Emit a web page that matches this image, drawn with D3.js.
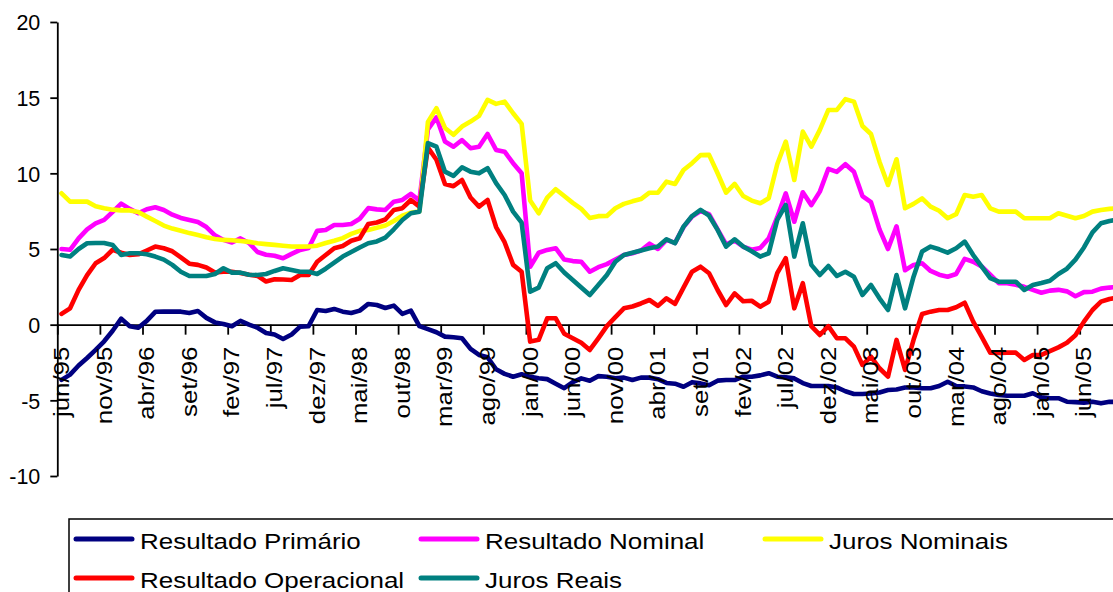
<!DOCTYPE html>
<html><head><meta charset="utf-8">
<script src="https://cdn.jsdelivr.net/npm/d3@7"></script>
<style>html,body{margin:0;padding:0;background:#fff;overflow:hidden}</style>
</head><body><svg id="c" width="1113" height="592"></svg>
<script>
// ---- data ----
const monthNames = ["jan","fev","mar","abr","mai","jun","jul","ago","set","out","nov","dez"];
const startYear = 1995, startMonthIdx = 5, nMonths = 125;
const categories = d3.range(nMonths).map(i => {
  const k = startMonthIdx + i;
  return monthNames[k % 12] + "/" + String((startYear + Math.floor(k / 12)) % 100).padStart(2, "0");
});
const xTickLabels = ["jun/95","nov/95","abr/96","set/96","fev/97","jul/97","dez/97","mai/98","out/98","mar/99","ago/99","jan/00","jun/00","nov/00","abr/01","set/01","fev/02","jul/02","dez/02","mai/03","out/03","mar/04","ago/04","jan/05","jun/05"];
const yTicks = [-10,-5,0,5,10,15,20];

const resultadoPrimario = [-3.65,-3.3,-2.7,-2.2,-1.67,-1.1,-0.4,0.4,-0.1,-0.2, 0.25,0.85,0.86,0.86,0.86,0.77,0.9,0.45,0.15,0.05, -0.1,0.25,0.0,-0.2,-0.55,-0.65,-0.95,-0.65,-0.13,-0.1, 0.97,0.9,1.04,0.86,0.77,0.93,1.37,1.3,1.1,1.26, 0.71,0.93,-0.1,-0.3,-0.5,-0.79,-0.83,-0.9,-1.6,-2.0, -2.15,-2.95,-3.25,-3.44,-3.28,-3.45,-3.54,-3.6,-3.9,-4.2, -3.8,-3.55,-3.7,-3.4,-3.44,-3.54,-3.5,-3.66,-3.5,-3.5, -3.6,-3.85,-3.9,-4.1,-3.8,-3.88,-4.0,-3.7,-3.66,-3.66, -3.44,-3.44,-3.35,-3.21,-3.44,-3.48,-3.55,-3.86,-4.05,-4.05, -4.05,-4.15,-4.4,-4.58,-4.58,-4.55,-4.48,-4.32,-4.28,-4.15, -4.15,-4.2,-4.2,-4.05,-3.77,-4.05,-4.08,-4.15,-4.4,-4.55, -4.65,-4.7,-4.7,-4.7,-4.53,-4.8,-4.86,-4.86,-5.09,-5.12, -5.15,-5.09,-5.2,-5.1,-5.1];
const resultadoNominal = [5.0,4.95,5.7,6.3,6.7,6.92,7.45,8.0,7.65,7.36, 7.63,7.76,7.58,7.27,7.05,6.92,6.78,6.45,5.9,5.6, 5.43,5.7,5.4,4.8,4.62,4.55,4.39,4.68,4.94,5.07, 6.2,6.26,6.59,6.59,6.65,7.0,7.7,7.62,7.58,8.13, 8.24,8.64,8.2,12.9,13.7,12.1,11.76,12.2,11.66,11.76, 12.6,11.55,11.43,10.67,10.0,3.83,4.75,4.94,5.05,4.3, 4.2,4.16,3.5,3.8,4.0,4.3,4.6,4.72,4.9,5.35, 5.0,5.6,5.4,6.45,7.15,7.5,7.3,6.3,5.3,5.55, 5.15,4.95,5.07,5.7,7.1,8.68,6.8,8.75,7.9,8.79, 10.3,10.1,10.6,10.1,8.5,8.1,6.3,5.0,6.5,3.6, 3.95,4.06,3.55,3.3,3.17,3.35,4.35,4.16,3.85,3.3, 2.74,2.74,2.63,2.5,2.3,2.11,2.25,2.3,2.2,1.88, 2.15,2.18,2.38,2.45,2.5];
const jurosNominais = [8.68,8.13,8.13,8.13,7.82,7.7,7.6,7.55,7.55,7.45, 7.14,6.85,6.55,6.35,6.2,6.05,5.92,5.78,5.66,5.6, 5.58,5.53,5.47,5.38,5.32,5.27,5.22,5.17,5.16,5.17, 5.22,5.4,5.55,5.72,6.0,6.2,6.26,6.4,6.55,6.85, 7.2,7.4,7.5,13.4,14.3,13.0,12.55,13.09,13.42,13.8, 14.85,14.59,14.74,13.97,13.27,8.2,7.36,8.4,8.95,8.5, 8.05,7.65,7.05,7.17,7.18,7.69,7.98,8.15,8.3,8.72, 8.72,9.45,9.3,10.22,10.67,11.2,11.22,10.0,8.72,9.3, 8.5,8.2,8.02,8.35,10.6,12.1,9.56,12.76,11.76,12.87, 14.19,14.19,14.9,14.74,13.13,12.6,10.77,9.23,10.93,7.69, 7.98,8.35,7.8,7.53,7.03,7.3,8.57,8.46,8.57,7.69, 7.47,7.47,7.47,7.03,7.03,7.03,7.03,7.36,7.2,7.03, 7.18,7.47,7.58,7.65,7.7];
const resultadoOperacional = [0.71,1.08,2.3,3.28,4.06,4.4,4.95,4.75,4.6,4.65, 4.9,5.16,5.05,4.85,4.45,4.03,3.95,3.78,3.45,3.5, 3.5,3.42,3.3,3.22,2.85,3.0,2.98,2.95,3.28,3.28, 4.16,4.6,5.05,5.2,5.55,5.71,6.65,6.75,6.95,7.58, 7.7,8.24,7.8,11.7,10.9,9.3,9.15,9.56,8.4,7.8, 8.24,6.45,5.45,3.95,3.5,-1.12,-1.0,0.42,0.42,-0.6, -0.9,-1.2,-1.67,-0.9,-0.1,0.5,1.08,1.2,1.4,1.63, 1.24,1.74,1.37,2.45,3.5,3.83,3.4,2.29,1.3,2.07, 1.55,1.58,1.19,1.52,3.4,4.39,1.08,2.74,-0.1,-0.68, -0.1,-0.9,-0.9,-1.45,-2.66,-2.11,-2.88,-3.44,-1.01,-2.99, -1.0,0.71,0.86,0.97,0.97,1.15,1.45,0.2,-0.8,-1.85, -1.87,-1.85,-1.85,-2.33,-2.0,-2.0,-1.75,-1.5,-1.2,-0.7, 0.2,0.97,1.52,1.7,1.8];
const jurosReais = [4.6,4.5,5.0,5.38,5.4,5.4,5.27,4.6,4.72,4.72, 4.65,4.5,4.3,3.95,3.5,3.22,3.22,3.22,3.35,3.73, 3.44,3.44,3.3,3.28,3.35,3.55,3.73,3.62,3.5,3.5, 3.35,3.7,4.1,4.5,4.8,5.1,5.38,5.5,5.75,6.3, 6.92,7.36,7.47,12.0,11.76,10.11,9.83,10.4,10.11,10.0, 10.34,9.35,8.57,7.47,6.74,2.18,2.45,3.73,4.06,3.45, 2.95,2.45,1.96,2.62,3.28,4.16,4.6,4.75,4.9,5.05, 5.16,5.64,5.38,6.48,7.18,7.58,7.2,6.26,5.16,5.64, 5.16,4.85,4.5,4.72,6.92,7.91,4.5,6.7,3.95,3.28, 3.88,3.22,3.5,3.17,1.96,2.62,1.74,0.97,3.28,1.08, 3.17,4.83,5.16,4.98,4.76,5.05,5.49,4.6,3.83,3.07, 2.84,2.84,2.84,2.29,2.62,2.75,2.9,3.35,3.7,4.3, 5.1,6.1,6.7,6.85,6.95];

const seriesNames = ["Resultado Primário","Resultado Nominal","Juros Nominais","Resultado Operacional","Juros Reais"];
const seriesValues = [resultadoPrimario, resultadoNominal, jurosNominais, resultadoOperacional, jurosReais];
const seriesColors = ["#000080","#FF00FF","#FFFF00","#FF0000","#008080"];

// ---- layout ----
const FONT = "'Liberation Sans', Arial, sans-serif";
const svg = d3.select("#c");
const plotLeft = 57.3, step = 8.52, plotTop = 22, plotBottom = 476;
const plotRight = plotLeft + nMonths * step;

const x = d3.scaleBand().domain(categories).range([plotLeft, plotRight]).padding(0);
const xi = d3.scaleLinear().domain([0, nMonths]).range([plotLeft, plotRight]);
const y = d3.scaleLinear().domain([-10, 20]).range([plotBottom, plotTop]);

function stretch(sel, f) {
  sel.each(function() {
    const L = this.getComputedTextLength();
    this.setAttribute("textLength", L * f);
    this.setAttribute("lengthAdjust", "spacingAndGlyphs");
  });
}

// y axis
const gy = svg.append("g").attr("transform", `translate(${plotLeft},0)`)
  .call(d3.axisLeft(y).tickValues(yTicks).tickSize(7).tickSizeOuter(0).tickPadding(10).tickFormat(d => String(d)));
gy.selectAll("path,line").attr("stroke", "#000").attr("stroke-width", 1.8);
gy.selectAll("text").attr("font-family", FONT).attr("font-size", 21.5).attr("fill", "#000").attr("dy", "0.36em");

// x axis line + tick marks at category boundaries
const gxt = svg.append("g").attr("transform", `translate(0,${y(0)})`)
  .call(d3.axisBottom(xi).tickValues(d3.range(0, nMonths + 1, 5)).tickSize(10).tickSizeOuter(0).tickFormat(""));
gxt.selectAll("path,line").attr("stroke", "#000").attr("stroke-width", 1.8);

// series lines
const line = d3.line().x((d, i) => x(categories[i]) + x.bandwidth() / 2).y(d => y(d));
seriesValues.forEach((vals, k) => {
  svg.append("path").datum(vals).attr("d", line)
    .attr("fill", "none").attr("stroke", seriesColors[k]).attr("stroke-width", 4.6)
    .attr("stroke-linejoin", "round").attr("stroke-linecap", "round");
});

// x tick labels (rotated)
const gxl = svg.append("g").attr("transform", `translate(0,${y(0)})`)
  .call(d3.axisBottom(x).tickValues(xTickLabels).tickSize(0));
gxl.select(".domain").remove();
gxl.selectAll("text")
  .attr("font-family", FONT).attr("font-size", 21.5).attr("fill", "#000")
  .attr("transform", "rotate(-90)").attr("text-anchor", "end")
  .attr("x", -22).attr("y", 0).attr("dy", "0.35em");
stretch(gxl.selectAll("text"), 1.2);

// legend
const lg = svg.append("g");
lg.append("rect").attr("x", 69).attr("y", 519).attr("width", 1100).attr("height", 120)
  .attr("fill", "#fff").attr("stroke", "#000").attr("stroke-width", 1.5);
const legendPos = [[140, 549], [485, 549], [829, 549], [140, 588], [485, 588]];
seriesNames.forEach((name, k) => {
  const [tx, ty] = legendPos[k];
  lg.append("line").attr("x1", tx - 64).attr("x2", tx - 8).attr("y1", ty - 10).attr("y2", ty - 10)
    .attr("stroke", seriesColors[k]).attr("stroke-width", 5).attr("stroke-linecap", "round");
  const t = lg.append("text").attr("x", tx).attr("y", ty).text(name)
    .attr("font-family", FONT).attr("font-size", 22).attr("fill", "#000");
  stretch(t, 1.18);
});
</script></body></html>
